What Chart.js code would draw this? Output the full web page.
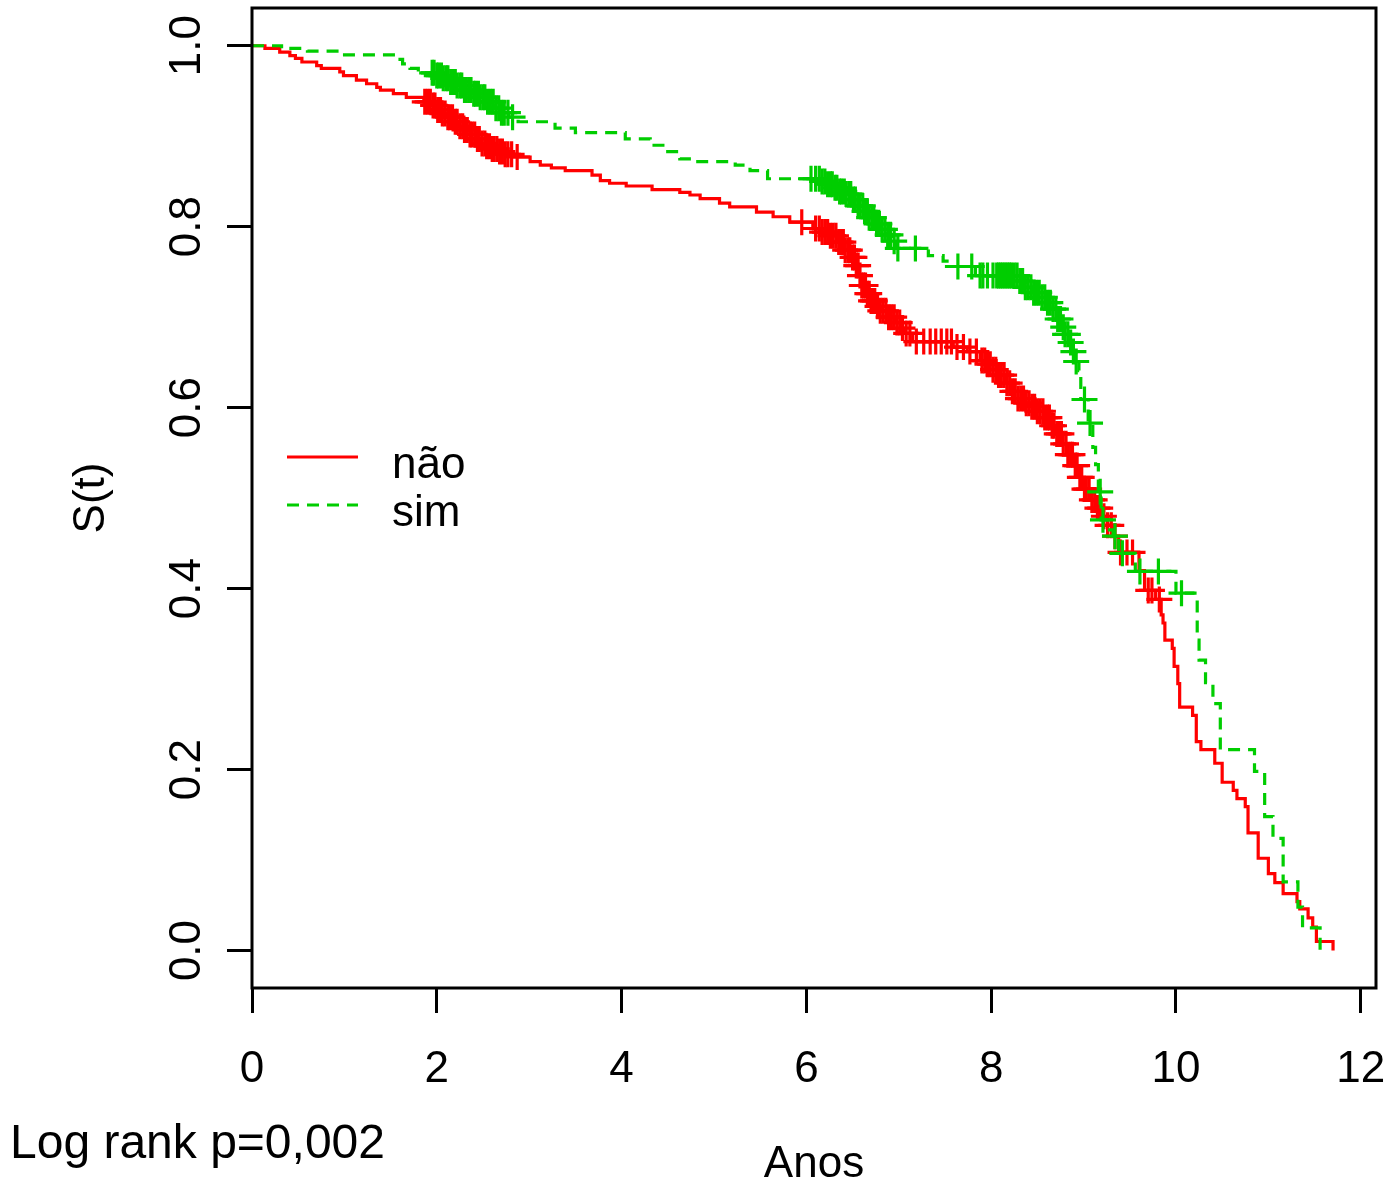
<!DOCTYPE html>
<html>
<head>
<meta charset="utf-8">
<title>S(t)</title>
<script src="https://cdn.jsdelivr.net/npm/chart.js@4.4.0/dist/chart.umd.min.js"></script>
<style>
  html, body { margin: 0; padding: 0; background: #fff; }
  #wrap { width: 1392px; height: 1187px; }
</style>
</head>
<body>
<div id="wrap"><canvas id="km" width="1392" height="1187"></canvas></div>
<script>
// tick labels
const xTicks = [0, 2, 4, 6, 8, 10, 12];
const yTicks = [0, 0.2, 0.4, 0.6, 0.8, 1.0];
const yTickLabels = ['0.0', '0.2', '0.4', '0.6', '0.8', '1.0'];
const legendLabels = ['não', 'sim'];

// "não" curve: event times and survival after each drop
const naoTime = [0, 0.14, 0.30, 0.41, 0.47, 0.54, 0.70, 0.75, 0.95, 0.99, 1.13, 1.24, 1.35, 1.39, 1.53, 1.67,
  1.86, 1.94, 2.00, 2.06, 2.12, 2.18, 2.24, 2.30, 2.36, 2.42, 2.48, 2.54, 2.60, 2.66, 2.74, 2.82,
  3.01, 3.12, 3.24, 3.39, 3.68, 3.77, 3.87, 4.05, 4.33, 4.63, 4.74, 4.85, 5.06, 5.17, 5.46, 5.64, 5.82,
  6.07, 6.16, 6.26, 6.34, 6.42, 6.48, 6.53, 6.57, 6.60, 6.65, 6.69, 6.75, 6.80, 6.88, 6.96, 7.02, 7.07, 7.15,
  7.59, 7.74, 7.88, 7.95, 8.02, 8.08, 8.15, 8.22, 8.29, 8.36, 8.43, 8.50, 8.57, 8.64, 8.70, 8.77, 8.83,
  8.89, 8.95, 9.01, 9.07, 9.13, 9.19, 9.26, 9.32, 9.38, 9.60, 9.66, 9.78, 9.84, 9.86, 9.88, 9.96, 9.98,
  10.02, 10.04, 10.18, 10.22, 10.27, 10.42, 10.50, 10.62, 10.66, 10.75, 10.78, 10.89, 11.00, 11.07, 11.16,
  11.31, 11.34, 11.43, 11.48, 11.52, 11.70];
const naoSurv = [1, 0.997, 0.993, 0.989, 0.986, 0.982, 0.978, 0.975, 0.971, 0.967, 0.962, 0.958, 0.954, 0.951, 0.947, 0.943,
  0.938, 0.934, 0.929, 0.925, 0.921, 0.916, 0.911, 0.907, 0.902, 0.897, 0.892, 0.889, 0.886, 0.883, 0.880, 0.877,
  0.872, 0.868, 0.865, 0.862, 0.857, 0.851, 0.848, 0.845, 0.841, 0.838, 0.835, 0.831, 0.826, 0.822, 0.816, 0.811, 0.805,
  0.798, 0.794, 0.790, 0.783, 0.774, 0.766, 0.757, 0.746, 0.735, 0.726, 0.718, 0.712, 0.707, 0.700, 0.694, 0.688, 0.682, 0.673,
  0.667, 0.662, 0.652, 0.648, 0.642, 0.636, 0.627, 0.618, 0.610, 0.605, 0.601, 0.596, 0.589, 0.580, 0.571, 0.560, 0.548,
  0.536, 0.523, 0.510, 0.498, 0.489, 0.480, 0.470, 0.458, 0.440, 0.420, 0.398, 0.388, 0.371, 0.362, 0.343, 0.334, 0.314,
  0.295, 0.269, 0.260, 0.231, 0.222, 0.207, 0.186, 0.177, 0.168, 0.159, 0.130, 0.102, 0.085, 0.075, 0.063,
  0.054, 0.046, 0.036, 0.026, 0.010, 0];
// "não" censoring times
const naoCensor = [1.87, 1.90, 1.93, 1.96, 1.98, 2.01, 2.04, 2.06, 2.09, 2.12, 2.14, 2.17, 2.20, 2.22, 2.25, 2.28,
  2.30, 2.33, 2.36, 2.38, 2.41, 2.44, 2.46, 2.49, 2.52, 2.54, 2.57, 2.60, 2.62, 2.65, 2.68, 2.71, 2.74, 2.77, 2.81, 2.87,
  5.95, 6.10, 6.14, 6.17, 6.20, 6.23, 6.26, 6.29, 6.32, 6.35, 6.37, 6.40, 6.42, 6.45, 6.47, 6.50, 6.52, 6.54,
  6.56, 6.58, 6.60, 6.62, 6.64, 6.66, 6.68, 6.70, 6.72, 6.74, 6.77, 6.80, 6.83, 6.86, 6.89, 6.92, 6.95, 6.98,
  7.01, 7.04, 7.08, 7.12, 7.19, 7.27, 7.34, 7.40, 7.46, 7.52, 7.57, 7.63, 7.70, 7.77, 7.84,
  7.90, 7.93, 7.96, 7.99, 8.02, 8.05, 8.08, 8.11, 8.14, 8.17, 8.20, 8.23, 8.26, 8.29, 8.32, 8.35, 8.38, 8.41,
  8.44, 8.47, 8.50, 8.53, 8.56, 8.58, 8.61, 8.63, 8.66, 8.68, 8.71, 8.73, 8.76, 8.78, 8.81, 8.83, 8.86, 8.88,
  8.91, 8.93, 8.96, 8.98, 9.01, 9.03, 9.06, 9.09, 9.12, 9.15, 9.18, 9.22, 9.26, 9.30, 9.34,
  9.40, 9.47, 9.53, 9.70, 9.74, 9.82];

// "sim" curve
const simTime = [0, 0.32, 0.60, 0.97, 1.55, 1.63, 1.71, 1.80, 1.98, 2.06, 2.14, 2.22, 2.30, 2.38, 2.46, 2.54, 2.62, 2.70,
  2.78, 2.88, 3.28, 3.50, 4.04, 4.31, 4.47, 4.63, 4.79, 5.23, 5.39, 5.58,
  6.15, 6.22, 6.29, 6.36, 6.43, 6.50, 6.56, 6.62, 6.68, 6.74, 6.80, 6.86, 6.92, 6.97, 7.32, 7.48, 7.55, 7.83,
  8.30, 8.37, 8.45, 8.53, 8.60, 8.67, 8.72, 8.76, 8.80, 8.84, 8.88, 8.92, 8.95, 8.97, 9.05, 9.10, 9.13, 9.16,
  9.19, 9.28, 9.32, 9.38, 9.56, 10.00, 10.23, 10.25, 10.32, 10.40, 10.48, 10.85, 10.96, 11.05, 11.16, 11.32,
  11.37, 11.56];
const simSurv = [1, 0.997, 0.994, 0.990, 0.985, 0.980, 0.975, 0.970, 0.967, 0.964, 0.960, 0.956, 0.951, 0.947, 0.943, 0.938, 0.931, 0.926,
  0.921, 0.916, 0.909, 0.904, 0.897, 0.890, 0.883, 0.875, 0.872, 0.868, 0.862, 0.853,
  0.850, 0.847, 0.843, 0.839, 0.836, 0.830, 0.823, 0.817, 0.810, 0.803, 0.797, 0.791, 0.784, 0.776, 0.768, 0.762, 0.756, 0.746,
  0.740, 0.733, 0.727, 0.722, 0.716, 0.709, 0.698, 0.689, 0.681, 0.672, 0.662, 0.651, 0.641, 0.609, 0.583, 0.556, 0.537, 0.507,
  0.476, 0.465, 0.458, 0.439, 0.419, 0.395, 0.343, 0.321, 0.296, 0.273, 0.222, 0.198, 0.148, 0.124, 0.076, 0.048,
  0.025, 0];
const simCensor = [1.95, 1.97, 2.00, 2.02, 2.05, 2.07, 2.10, 2.12, 2.15, 2.17, 2.20, 2.22, 2.25, 2.27, 2.30, 2.32, 2.35,
  2.37, 2.40, 2.42, 2.45, 2.47, 2.50, 2.52, 2.55, 2.58, 2.61, 2.64, 2.67, 2.70, 2.73, 2.77, 2.82,
  6.05, 6.10, 6.14, 6.17, 6.20, 6.23, 6.26, 6.28, 6.31, 6.33, 6.36, 6.38, 6.41, 6.43, 6.46, 6.48, 6.51, 6.53,
  6.56, 6.58, 6.61, 6.63, 6.66, 6.68, 6.71, 6.73, 6.76, 6.79, 6.82, 6.85, 6.88, 6.91, 6.95, 6.99,
  7.18, 7.64, 7.79, 7.88, 7.91, 7.96, 8.02,
  8.06, 8.08, 8.10, 8.12, 8.14, 8.16, 8.18, 8.20, 8.22, 8.25, 8.28, 8.31, 8.34, 8.37, 8.40, 8.43, 8.46, 8.49,
  8.52, 8.55, 8.58, 8.61, 8.64, 8.67, 8.70, 8.72, 8.75, 8.78, 8.80, 8.83, 8.86, 8.89, 8.92,
  9.01, 9.07, 9.18, 9.21, 9.34, 9.42, 9.61, 9.81, 10.06];

const RED = '#ff0000';
const GREEN = '#00cd00';
const FONT = '"Liberation Sans", Arial, Helvetica, sans-serif';

// survival level of a step curve at time t (used to place censor marks)
function stepValue(times, surv, t) {
  let v = surv[0];
  for (let i = 0; i < times.length; i++) {
    if (times[i] <= t) v = surv[i];
  }
  return v;
}

const toPoints = (times, surv) => times.map((t, i) => ({ x: t, y: surv[i] }));
const toCensor = (cens, times, surv) => cens.map(t => ({ x: t, y: stepValue(times, surv, t) }));

// box, legend and log rank text
const extras = {
  id: 'extras',
  afterDraw(chart) {
    const { ctx, chartArea: a } = chart;
    ctx.save();
    ctx.strokeStyle = '#000';
    ctx.lineWidth = 3;
    ctx.strokeRect(a.left, a.top, a.right - a.left, a.bottom - a.top);

    const rows = [
      { label: legendLabels[0], color: RED, dash: [], y: 457 },
      { label: legendLabels[1], color: GREEN, dash: [12, 8], y: 505 }
    ];
    ctx.font = '44px ' + FONT;
    ctx.textBaseline = 'alphabetic';
    ctx.textAlign = 'left';
    rows.forEach(r => {
      ctx.strokeStyle = r.color;
      ctx.lineWidth = 3;
      ctx.setLineDash(r.dash);
      ctx.beginPath();
      ctx.moveTo(287, r.y);
      ctx.lineTo(358, r.y);
      ctx.stroke();
      ctx.setLineDash([]);
      ctx.fillStyle = '#000';
      ctx.fillText(r.label, 392, r.y + 21);
    });

    ctx.font = '48px ' + FONT;
    ctx.fillStyle = '#000';
    ctx.fillText('Log rank p=0,002', 10, 1158);
    ctx.restore();
  }
};

Chart.defaults.font.family = FONT;
Chart.defaults.color = '#000';

new Chart(document.getElementById('km'), {
  type: 'scatter',
  data: {
    datasets: [
      {
        label: 'não', data: toPoints(naoTime, naoSurv), showLine: true, stepped: true,
        borderColor: RED, borderWidth: 3.2, pointRadius: 0, fill: false, order: 1
      },
      {
        label: 'não censor', data: toCensor(naoCensor, naoTime, naoSurv), showLine: false,
        pointStyle: 'cross', pointRadius: 13, pointBorderColor: RED, pointBorderWidth: 3.2, order: 1
      },
      {
        label: 'sim', data: toPoints(simTime, simSurv), showLine: true, stepped: true,
        borderColor: GREEN, borderWidth: 3.2, borderDash: [12, 8], pointRadius: 0, fill: false, order: 0
      },
      {
        label: 'sim censor', data: toCensor(simCensor, simTime, simSurv), showLine: false,
        pointStyle: 'cross', pointRadius: 13, pointBorderColor: GREEN, pointBorderWidth: 3.2, order: 0
      }
    ]
  },
  options: {
    responsive: false,
    animation: false,
    devicePixelRatio: 1,
    layout: { autoPadding: false, padding: { left: 0, top: 8, right: 16, bottom: 0 } },
    plugins: { legend: { display: false }, tooltip: { enabled: false } },
    scales: {
      x: {
        type: 'linear', min: 0, max: 12.165,
        afterBuildTicks: s => { s.ticks = xTicks.map(v => ({ value: v })); },
        afterFit: s => { s.height = 199; s.paddingLeft = 0; s.paddingRight = 0; },
        grid: { drawOnChartArea: false, drawTicks: true, tickLength: 25, tickWidth: 3, tickColor: '#000' },
        border: { display: false },
        ticks: { color: '#000', font: { size: 44, lineHeight: 1 }, padding: 35, maxRotation: 0, autoSkip: false,
          callback: v => String(v) },
        title: { display: true, text: 'Anos', color: '#000', font: { size: 44, lineHeight: 1 }, padding: { top: 0, bottom: 0 } }
      },
      y: {
        type: 'linear', min: -0.0414, max: 1.0417,
        afterBuildTicks: s => { s.ticks = yTicks.map(v => ({ value: v })); },
        afterFit: s => { s.width = 252; s.paddingTop = 0; s.paddingBottom = 0; },
        grid: { drawOnChartArea: false, drawTicks: true, tickLength: 25, tickWidth: 3, tickColor: '#000' },
        border: { display: false },
        ticks: { color: '#000', font: { size: 44, lineHeight: 1 }, padding: 9, minRotation: 90, maxRotation: 90,
          crossAlign: 'center', autoSkip: false, callback: (v, i) => yTickLabels[i] },
        title: { display: true, text: 'S(t)', color: '#000', font: { size: 44, lineHeight: 1 }, padding: { top: 70, bottom: 0 } }
      }
    }
  },
  plugins: [extras]
});
</script>
</body>
</html>
